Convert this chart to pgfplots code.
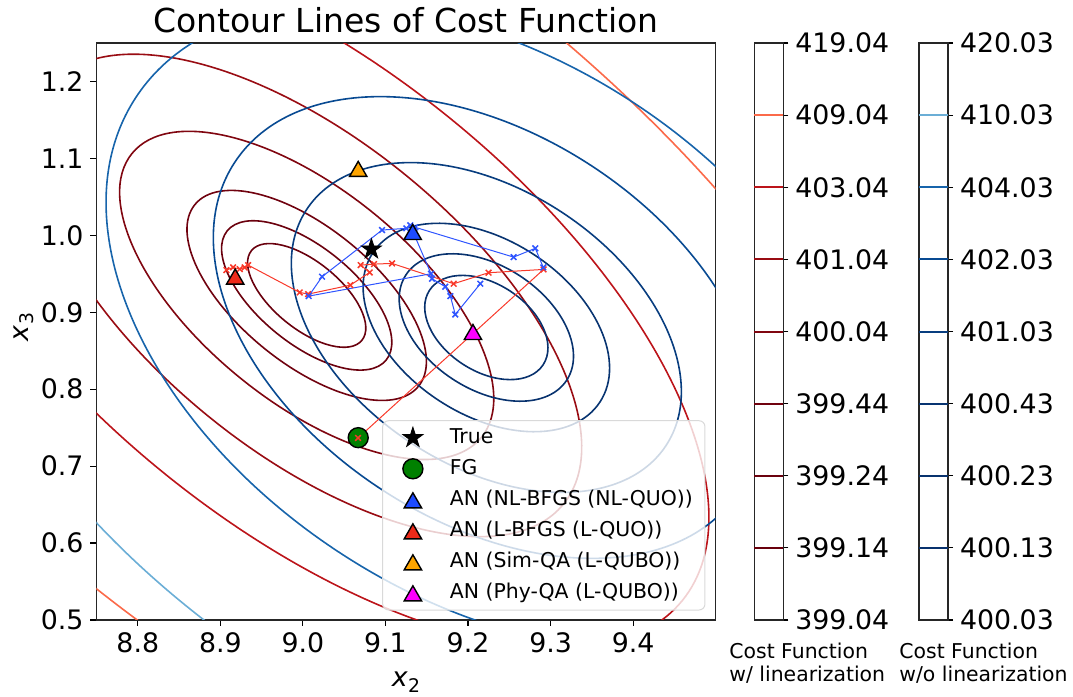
\documentclass[border=0pt]{standalone}
\usepackage{fontspec}
\setmainfont{DejaVu Sans}
\usepackage{pgfplots}
\pgfplotsset{compat=1.18}

% contour colours (Reds_r / Blues_r)
\definecolor{rA}{HTML}{69000D}
\definecolor{rB}{HTML}{6B010E}
\definecolor{rC}{HTML}{70020F}
\definecolor{rD}{HTML}{800610}
\definecolor{rE}{HTML}{990C13}
\definecolor{rF}{HTML}{BC141A}
\definecolor{rG}{HTML}{FB6A4A}
\definecolor{bA}{HTML}{08316D}
\definecolor{bB}{HTML}{08326E}
\definecolor{bC}{HTML}{083471}
\definecolor{bD}{HTML}{083D7F}
\definecolor{bE}{HTML}{084A92}
\definecolor{bF}{HTML}{1764AB}
\definecolor{bG}{HTML}{6BAED6}
\definecolor{pathred}{HTML}{F8392A}
\definecolor{pathblue}{HTML}{2F55FF}
\definecolor{triblue}{HTML}{1E4BFF}
\definecolor{trired}{HTML}{EE2A1A}
\definecolor{triorange}{HTML}{FFA500}
\definecolor{trimag}{HTML}{FF00FF}
\definecolor{fggreen}{HTML}{008000}

\pgfdeclareplotmark{fstar}{%
  \pgfpathmoveto{\pgfpointpolar{90}{\pgfplotmarksize}}%
  \pgfpathlineto{\pgfpointpolar{126}{0.382*\pgfplotmarksize}}%
  \pgfpathlineto{\pgfpointpolar{162}{\pgfplotmarksize}}%
  \pgfpathlineto{\pgfpointpolar{198}{0.382*\pgfplotmarksize}}%
  \pgfpathlineto{\pgfpointpolar{234}{\pgfplotmarksize}}%
  \pgfpathlineto{\pgfpointpolar{270}{0.382*\pgfplotmarksize}}%
  \pgfpathlineto{\pgfpointpolar{306}{\pgfplotmarksize}}%
  \pgfpathlineto{\pgfpointpolar{342}{0.382*\pgfplotmarksize}}%
  \pgfpathlineto{\pgfpointpolar{18}{\pgfplotmarksize}}%
  \pgfpathlineto{\pgfpointpolar{54}{0.382*\pgfplotmarksize}}%
  \pgfpathclose
  \pgfusepathqfillstroke
}

\pgfplotsset{
  /pgf/number format/assume math mode=true,
  cbar/.style={
    scale only axis, width=14.5pt, height=288.5pt, anchor=south west,
    xmin=0, xmax=1, ymin=0, ymax=8, xtick=\empty, ytick={0,1,...,8},
    ytick pos=right, yticklabel pos=right, tick align=outside,
    major tick length=2.5pt,
    tick style={black, line width=0.6pt},
    axis line style={black!85, line width=0.7pt},
    tick label style={font=\fontsize{13.4}{16}\selectfont},
    clip=false,
  },
  iter/.style={line width=0.5pt, mark=x, mark size=2pt, mark options={line width=0.75pt}, forget plot},
}

\begin{document}
\begin{tikzpicture}
\useasboundingbox (0pt,0pt) rectangle (536.5pt,348.5pt);

\begin{axis}[
  at={(48.25pt,38.5pt)}, anchor=south west,
  scale only axis, width=309.6pt, height=288.5pt,
  xmin=8.75, xmax=9.5, ymin=0.5, ymax=1.25,
  xtick={8.8,8.9,9.0,9.1,9.2,9.3,9.4},
  ytick={0.5,0.6,0.7,0.8,0.9,1.0,1.1,1.2},
  xticklabel={\pgfmathprintnumber[fixed,fixed zerofill,precision=1]{\tick}},
  yticklabel={\pgfmathprintnumber[fixed,fixed zerofill,precision=1]{\tick}},
  tick align=outside, tick pos=left, major tick length=3pt,
  tick style={black, line width=0.6pt},
  axis line style={black!85, line width=0.75pt},
  tick label style={font=\fontsize{13.4}{16}\selectfont},
  legend style={at={(0.4622,0.3454)}, anchor=north west, draw=none, fill=none,
    inner xsep=9.86pt, inner ysep=0.6pt, row sep=0pt,
    font=\fontsize{10.2}{12}\selectfont,
    nodes={inner sep=2pt, text height=8.5pt, text depth=3pt},
    /tikz/every odd column/.append style={column sep=11.5pt}},
  legend cell align=left,
]

% contour lines of the two cost functions
\begin{scope}
\clip (rel axis cs:0,0) rectangle (rel axis cs:1,1);
\draw[rA, line width=0.8pt] (axis cs:9.0046,0.9219) ellipse [x radius=35.57pt, y radius=16.75pt, rotate=-39.1];
\draw[rB, line width=0.8pt] (axis cs:9.0046,0.9219) ellipse [x radius=51.21pt, y radius=24.12pt, rotate=-39.1];
\draw[rC, line width=0.8pt] (axis cs:9.0046,0.9219) ellipse [x radius=72.03pt, y radius=33.92pt, rotate=-39.1];
\draw[rD, line width=0.8pt] (axis cs:9.0046,0.9219) ellipse [x radius=112.55pt, y radius=53.0pt, rotate=-39.1];
\draw[rE, line width=0.8pt] (axis cs:9.0046,0.9219) ellipse [x radius=165.45pt, y radius=77.91pt, rotate=-39.1];
\draw[rF, line width=0.8pt] (axis cs:9.0046,0.9219) ellipse [x radius=241.98pt, y radius=113.95pt, rotate=-39.1];
\draw[rG, line width=0.8pt] (axis cs:9.0046,0.9219) ellipse [x radius=382.67pt, y radius=180.2pt, rotate=-39.1];
\draw[bA, line width=0.8pt] (axis cs:9.2222,0.8802) ellipse [x radius=33.97pt, y radius=21.77pt, rotate=-33.3];
\draw[bB, line width=0.8pt] (axis cs:9.2222,0.8802) ellipse [x radius=48.05pt, y radius=30.80pt, rotate=-33.3];
\draw[bC, line width=0.8pt] (axis cs:9.2222,0.8802) ellipse [x radius=67.94pt, y radius=43.54pt, rotate=-33.3];
\draw[bD, line width=0.8pt] (axis cs:9.2222,0.8802) ellipse [x radius=107.5pt, y radius=68.9pt, rotate=-33.3];
\draw[bE, line width=0.8pt] (axis cs:9.2222,0.8802) ellipse [x radius=150.5pt, y radius=96.46pt, rotate=-33.3];
\draw[bF, line width=0.8pt] (axis cs:9.2222,0.8802) ellipse [x radius=209.63pt, y radius=134.36pt, rotate=-33.3];
\draw[bG, line width=0.8pt] (axis cs:9.2222,0.8802) ellipse [x radius=313.9pt, y radius=201.19pt, rotate=-33.3];
\end{scope}

% legend background
\draw[black!15, fill=white, fill opacity=0.8, rounded corners=3pt, line width=0.5pt]
  (rel axis cs:0.4622,0.3454) rectangle (rel axis cs:0.9827,0.0173);

% iterates: linearised (red) and non-linear (blue)
\addplot[pathred, iter]
  coordinates {(9.0668,0.7366) (9.2915,0.9557) (9.2249,0.9514) (9.1826,0.9371)
    (9.1080,0.9635) (9.0862,0.9626) (9.0700,0.9613) (9.0809,0.9518) (9.0575,0.9353)
    (9.0063,0.9236) (8.9961,0.9258) (8.9337,0.9613) (8.9295,0.9583) (8.9235,0.9561)
    (8.9155,0.9583) (8.9074,0.9548)};
\addplot[pathblue, iter]
  coordinates {(9.2149,0.9371) (9.1846,0.8971) (9.1786,0.9210) (9.1725,0.9332)
    (9.1564,0.9436) (9.1552,0.9501) (9.0070,0.9210) (9.0232,0.9462) (9.0959,1.0069)
    (9.1253,1.0091) (9.1301,1.0130) (9.1362,1.0104) (9.2552,0.9717) (9.2815,0.9831)
    (9.2912,0.9583)};
\addplot[pathblue, line width=0.5pt, forget plot]
  coordinates {(9.1330,1.0055) (9.1552,0.9501)};

% estimates
\addplot[only marks, mark=fstar, mark size=5.3pt, mark options={fill=black, draw=black, line width=0.4pt}]
  coordinates {(9.083,0.982)};
\addlegendentry{True}
\addplot[only marks, mark=*, mark size=5pt, mark options={fill=fggreen, draw=black, line width=0.7pt}]
  coordinates {(9.067,0.737)};
\addlegendentry{FG}
\addplot[only marks, mark=x, mark size=2pt, pathred, mark options={line width=0.75pt}, forget plot]
  coordinates {(9.0668,0.7366)};
\addplot[only marks, mark=triangle*, mark size=5pt, mark options={fill=triblue, draw=black, line width=0.7pt, yshift=-1.5pt}]
  coordinates {(9.133,1.005)};
\addlegendentry{AN (NL-BFGS (NL-QUO))}
\addplot[only marks, mark=triangle*, mark size=5pt, mark options={fill=trired, draw=black, line width=0.7pt, yshift=-1.5pt}]
  coordinates {(8.918,0.947)};
\addlegendentry{AN (L-BFGS (L-QUO))}
\addplot[only marks, mark=triangle*, mark size=5pt, mark options={fill=triorange, draw=black, line width=0.7pt, yshift=-1.5pt}]
  coordinates {(9.067,1.087)};
\addlegendentry{AN (Sim-QA (L-QUBO))}
\addplot[only marks, mark=triangle*, mark size=5pt, mark options={fill=trimag, draw=black, line width=0.7pt, yshift=-1.5pt}]
  coordinates {(9.206,0.875)};
\addlegendentry{AN (Phy-QA (L-QUBO))}
\end{axis}

% colour bar: with linearisation
\begin{axis}[cbar, at={(377.15pt,38.5pt)},
  yticklabels={399.04,399.14,399.24,399.44,400.04,401.04,403.04,409.04,419.04}]
\addplot[rA, line width=1pt] coordinates {(0,1) (1,1)};
\addplot[rB, line width=1pt] coordinates {(0,2) (1,2)};
\addplot[rC, line width=1pt] coordinates {(0,3) (1,3)};
\addplot[rD, line width=1pt] coordinates {(0,4) (1,4)};
\addplot[rE, line width=1pt] coordinates {(0,5) (1,5)};
\addplot[rF, line width=1pt] coordinates {(0,6) (1,6)};
\addplot[rG, line width=1pt] coordinates {(0,7) (1,7)};
\end{axis}

% colour bar: without linearisation
\begin{axis}[cbar, at={(459.5pt,38.5pt)},
  yticklabels={400.03,400.13,400.23,400.43,401.03,402.03,404.03,410.03,420.03}]
\addplot[bA, line width=1pt] coordinates {(0,1) (1,1)};
\addplot[bB, line width=1pt] coordinates {(0,2) (1,2)};
\addplot[bC, line width=1pt] coordinates {(0,3) (1,3)};
\addplot[bD, line width=1pt] coordinates {(0,4) (1,4)};
\addplot[bE, line width=1pt] coordinates {(0,5) (1,5)};
\addplot[bF, line width=1pt] coordinates {(0,6) (1,6)};
\addplot[bG, line width=1pt] coordinates {(0,7) (1,7)};
\end{axis}

% titles and labels
\node[anchor=base, font=\fontsize{16.5}{20}\selectfont, inner sep=0pt] at (203pt,332pt) {Contour Lines of Cost Function};
\node[anchor=base, font=\fontsize{13.4}{16}\selectfont, inner sep=0pt] at (203pt,5pt)
  {\itshape x\kern0.3pt\raisebox{-2.6pt}{\upshape\fontsize{9.4}{10}\selectfont 2}};
\node[anchor=base, rotate=90, font=\fontsize{13.4}{16}\selectfont, inner sep=0pt] at (14.2pt,185pt)
  {\itshape x\kern0.3pt\raisebox{-2.6pt}{\upshape\fontsize{9.4}{10}\selectfont 3}};
\node[anchor=base west, font=\fontsize{10.2}{12}\selectfont, inner sep=0pt] at (364.5pt,19.3pt) {Cost Function};
\node[anchor=base west, font=\fontsize{10.2}{12}\selectfont, inner sep=0pt] at (364.5pt,7.7pt) {w/ linearization};
\node[anchor=base west, font=\fontsize{10.2}{12}\selectfont, inner sep=0pt] at (449.5pt,19.3pt) {Cost Function};
\node[anchor=base west, font=\fontsize{10.2}{12}\selectfont, inner sep=0pt] at (449.5pt,7.7pt) {w/o linearization};
\end{tikzpicture}
\end{document}
